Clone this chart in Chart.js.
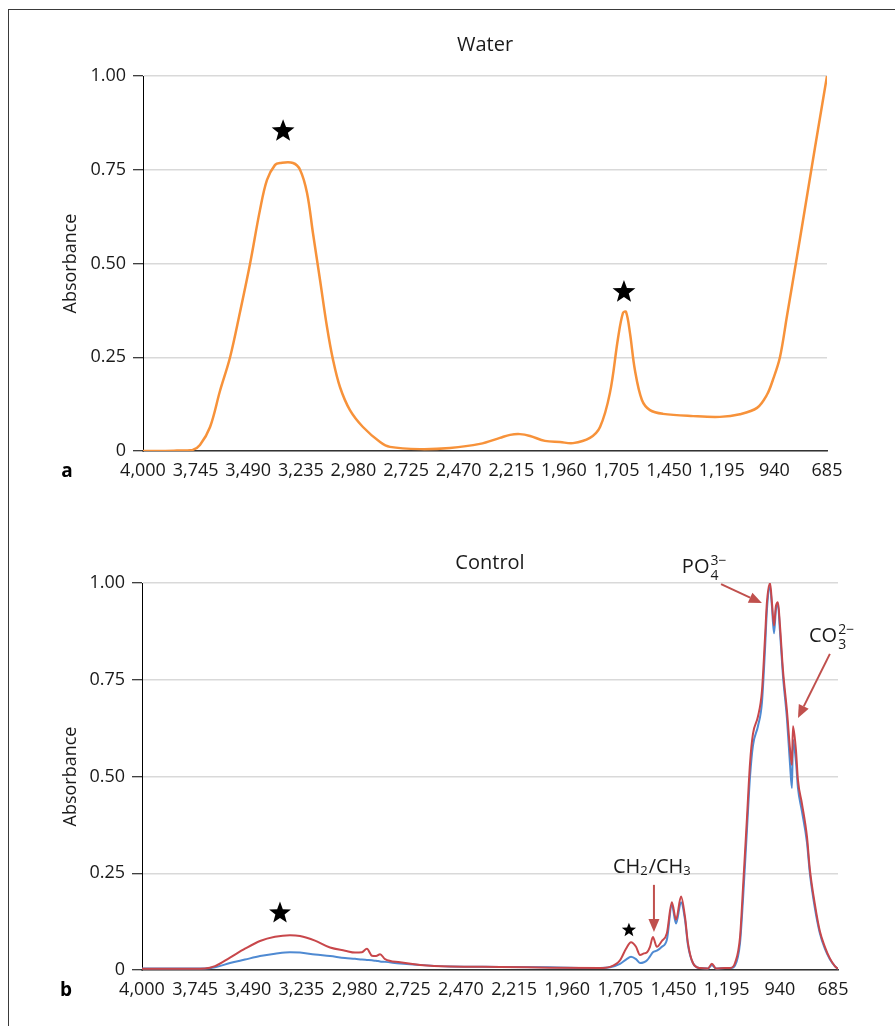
<!DOCTYPE html>
<html>
<head>
<meta charset="utf-8">
<title>Water / Control absorbance</title>
<script src="https://cdn.jsdelivr.net/npm/chart.js@4.4.1/dist/chart.umd.min.js"></script>
<style>
  html, body { margin: 0; padding: 0; background: #fff; }
  body { width: 895px; height: 1026px; position: relative; overflow: hidden; }
  .frame { position: absolute; left: 8px; top: 9px; width: 900px; height: 1030px;
           border-left: 1.5px solid #3a3a3a; border-top: 1.5px solid #3a3a3a; }
  canvas { position: absolute; left: 0; }
  #water { top: 0; }
  #control { top: 500px; }
</style>
</head>
<body>
<div class="frame"></div>
<canvas id="water" width="895" height="500"></canvas>
<canvas id="control" width="895" height="526"></canvas>
<script>
// x ticks (wavenumber, cm-1) shared by both panels
const xTicks = [4000, 3745, 3490, 3235, 2980, 2725, 2470, 2215, 1960, 1705, 1450, 1195, 940, 685];
const yTicks = [0, 0.25, 0.5, 0.75, 1];

// panel a: water
const waterWn = [4000, 3850, 3760, 3724, 3675, 3627, 3578, 3530, 3481, 3433, 3399, 3360, 3336, 3273, 3239,
  3205, 3176, 3142, 3108, 3079, 3045, 2997, 2934, 2851, 2803, 2658, 2512, 2367, 2270, 2221, 2173, 2124,
  2052, 1979, 1916, 1834, 1785, 1737, 1698, 1674, 1659, 1640, 1616, 1582, 1543, 1480, 1334, 1204, 1107,
  1024, 976, 947, 913, 879, 830, 801, 758, 729, 685];
const waterAbs = [0, 0.001, 0.003, 0.016, 0.064, 0.16, 0.25, 0.37, 0.5, 0.643, 0.723, 0.763, 0.768, 0.768, 0.75,
  0.688, 0.58, 0.456, 0.33, 0.243, 0.17, 0.109, 0.064, 0.024, 0.011, 0.005, 0.008, 0.019, 0.035, 0.043, 0.045, 0.04,
  0.027, 0.024, 0.021, 0.035, 0.064, 0.155, 0.3, 0.368, 0.371, 0.315, 0.216, 0.136, 0.109, 0.099, 0.093, 0.091, 0.098,
  0.115, 0.15, 0.19, 0.25, 0.36, 0.52, 0.616, 0.76, 0.856, 1.0];

// panel b: control, two spectra
const controlWn = [4000, 3818, 3698, 3650, 3578, 3506, 3434, 3362, 3290, 3242, 3170, 3098, 3026, 2978, 2945,
  2921, 2897, 2877, 2858, 2834, 2762, 2666, 2523, 2283, 2043, 1803, 1755, 1707, 1678, 1654, 1630, 1611,
  1592, 1577, 1563, 1549, 1530, 1506, 1482, 1458, 1438, 1414, 1395, 1381, 1357, 1323, 1285, 1266, 1246,
  1203, 1179, 1155, 1131, 1117, 1098, 1083, 1069, 1045, 1026, 1011, 1002, 987, 978, 968, 959, 949, 940,
  925, 906, 891, 882, 877, 863, 853, 834, 810, 796, 772, 748, 724, 700, 676, 661];
const controlRed = [0.003, 0.003, 0.004, 0.01, 0.032, 0.055, 0.075, 0.086, 0.09, 0.088, 0.076, 0.058, 0.05, 0.045, 0.046,
  0.055, 0.037, 0.036, 0.041, 0.028, 0.02, 0.013, 0.009, 0.008, 0.006, 0.005, 0.008, 0.025, 0.055, 0.072, 0.06, 0.039,
  0.043, 0.046, 0.06, 0.085, 0.06, 0.075, 0.095, 0.175, 0.13, 0.19, 0.137, 0.07, 0.018, 0.005, 0.004, 0.016, 0.004,
  0.005, 0.005, 0.018, 0.085, 0.21, 0.39, 0.535, 0.61, 0.655, 0.72, 0.86, 0.95, 1.0, 0.95, 0.89, 0.94, 0.95, 0.895,
  0.775, 0.67, 0.57, 0.53, 0.63, 0.57, 0.49, 0.43, 0.345, 0.26, 0.17, 0.1, 0.06, 0.03, 0.01, 0.003];
const controlBlue = [0.004, 0.004, 0.004, 0.007, 0.018, 0.027, 0.036, 0.042, 0.046, 0.045, 0.04, 0.036, 0.031, 0.029, 0.027,
  0.026, 0.025, 0.024, 0.022, 0.021, 0.017, 0.013, 0.009, 0.008, 0.007, 0.005, 0.007, 0.016, 0.027, 0.034, 0.028, 0.018,
  0.02, 0.025, 0.035, 0.046, 0.05, 0.06, 0.078, 0.168, 0.12, 0.175, 0.13, 0.065, 0.018, 0.005, 0.004, 0.012, 0.004,
  0.005, 0.005, 0.012, 0.07, 0.18, 0.36, 0.5, 0.58, 0.63, 0.69, 0.83, 0.93, 0.99, 0.94, 0.87, 0.93, 0.945, 0.88,
  0.76, 0.65, 0.53, 0.47, 0.595, 0.54, 0.47, 0.41, 0.33, 0.25, 0.16, 0.095, 0.055, 0.028, 0.01, 0.003];

// annotations, in data coordinates
const waterStars = [[3321, 0.853, 12], [1669, 0.424, 12]];
const controlStars = [[3338, 0.147, 11.5], [1664, 0.103, 7.5]];
const controlArrows = [[1222, 0.997, 1026, 0.948], [700, 0.817, 853, 0.651], [1544, 0.22, 1544, 0.098]];
const controlLabels = [
  { wn: 1410, abs: 1.026, runs: [{ t: "PO" }, { sup: "3\u2212", sub: "4" }] },
  { wn: 800, abs: 0.848, runs: [{ t: "CO" }, { sup: "2\u2212", sub: "3" }] },
  { wn: 1741, abs: 0.251, runs: [{ t: "CH" }, { low: "2" }, { t: "/CH" }, { low: "3" }] },
];

const FONT = "'Open Sans', sans-serif";
const INK = "#1a1a1a";
const ARROW = "#c0504d";

Chart.defaults.font.family = FONT;
Chart.defaults.color = INK;

function pts(xs, ys) {
  return xs.map((x, i) => ({ x: x, y: ys[i] }));
}

function drawStar(ctx, cx, cy, r) {
  ctx.beginPath();
  for (let i = 0; i < 10; i++) {
    const rad = i % 2 === 0 ? r : r * 0.42;
    const a = -Math.PI / 2 + i * Math.PI / 5;
    const px = cx + rad * Math.cos(a);
    const py = cy + rad * Math.sin(a);
    i === 0 ? ctx.moveTo(px, py) : ctx.lineTo(px, py);
  }
  ctx.closePath();
  ctx.fillStyle = "#000";
  ctx.fill();
}

function drawArrow(ctx, x1, y1, x2, y2) {
  const ang = Math.atan2(y2 - y1, x2 - x1);
  const head = 13, half = 5.5;
  const bx = x2 - head * Math.cos(ang), by = y2 - head * Math.sin(ang);
  ctx.strokeStyle = ARROW;
  ctx.fillStyle = ARROW;
  ctx.lineWidth = 2;
  ctx.beginPath();
  ctx.moveTo(x1, y1);
  ctx.lineTo(bx, by);
  ctx.stroke();
  ctx.beginPath();
  ctx.moveTo(x2, y2);
  ctx.lineTo(bx + half * Math.sin(ang), by - half * Math.cos(ang));
  ctx.lineTo(bx - half * Math.sin(ang), by + half * Math.cos(ang));
  ctx.closePath();
  ctx.fill();
}

// text with stacked super/subscripts, x/y is the left baseline
function drawRuns(ctx, x, y, runs) {
  ctx.fillStyle = INK;
  ctx.textAlign = "left";
  ctx.textBaseline = "alphabetic";
  let cx = x;
  runs.forEach((r) => {
    if (r.t) {
      ctx.font = "20px " + FONT;
      ctx.fillText(r.t, cx, y);
      cx += ctx.measureText(r.t).width;
    } else if (r.low) {
      ctx.font = "13px " + FONT;
      ctx.fillText(r.low, cx, y + 2);
      cx += ctx.measureText(r.low).width + 1;
    } else {
      ctx.font = "14px " + FONT;
      ctx.fillText(r.sup, cx + 1, y - 8);
      ctx.fillText(r.sub, cx + 1, y + 7);
      cx += Math.max(ctx.measureText(r.sup).width, ctx.measureText(r.sub).width) + 1;
    }
  });
}

const marksPlugin = {
  id: "marks",
  afterDraw(chart, args, opts) {
    const { ctx, chartArea } = chart;
    const x = chart.scales.x, y = chart.scales.y;
    ctx.save();
    (opts.stars || []).forEach((s) => drawStar(ctx, x.getPixelForValue(s[0]), y.getPixelForValue(s[1]), s[2]));
    (opts.arrows || []).forEach((a) => drawArrow(ctx,
      x.getPixelForValue(a[0]), y.getPixelForValue(a[1]), x.getPixelForValue(a[2]), y.getPixelForValue(a[3])));
    (opts.labels || []).forEach((l) => drawRuns(ctx, x.getPixelForValue(l.wn), y.getPixelForValue(l.abs), l.runs));
    if (opts.panel) {
      ctx.font = "bold 19px " + FONT;
      ctx.fillStyle = "#000";
      ctx.textAlign = "center";
      ctx.textBaseline = "alphabetic";
      ctx.fillText(opts.panel, chartArea.left - 76, chartArea.bottom + 26);
    }
    ctx.restore();
  },
};

function makeChart(id, cfg) {
  return new Chart(document.getElementById(id), {
    type: "line",
    data: { datasets: cfg.datasets },
    options: {
      responsive: false,
      animation: false,
      layout: { padding: { left: 0, right: cfg.right, top: 0, bottom: 0 } },
      elements: { point: { radius: 0 } },
      scales: {
        x: {
          type: "linear",
          reverse: true,
          min: cfg.xMin,
          max: 4000,
          afterBuildTicks: (s) => { s.ticks = xTicks.map((v) => ({ value: v })); },
          afterFit: (s) => { s.height = cfg.xHeight; },
          grid: { display: false, drawTicks: false },
          border: { color: "#333", width: 1.5 },
          ticks: {
            autoSkip: false, maxRotation: 0, padding: 9,
            font: { size: 18 }, color: INK,
            callback: (v) => v.toLocaleString("en-US"),
          },
        },
        y: {
          min: 0,
          max: 1,
          afterBuildTicks: (s) => { s.ticks = yTicks.map((v) => ({ value: v })); },
          afterFit: (s) => { s.width = cfg.yWidth; },
          grid: { color: "#d9d9d9", lineWidth: 1.5, tickColor: "#000", tickLength: 10, tickWidth: 1 },
          border: { color: "#000", width: 1 },
          ticks: {
            padding: 7, font: { size: 18 }, color: INK,
            callback: (v) => (v === 0 ? "0" : v.toFixed(2)),
          },
          title: { display: true, text: "Absorbance", font: { size: 18 }, color: INK, padding: { top: 60, bottom: 0 } },
        },
      },
      plugins: {
        legend: { display: false },
        tooltip: { enabled: false },
        title: {
          display: true, text: cfg.title, fullSize: false, color: INK,
          font: { size: 20, weight: "normal" }, padding: cfg.titlePad,
        },
        marks: cfg.marks,
      },
    },
    plugins: [marksPlugin],
  });
}

makeChart("water", {
  title: "Water",
  titlePad: { top: 33, bottom: 19 },
  xMin: 685, xHeight: 49, yWidth: 143, right: 68,
  datasets: [
    { label: "Water", data: pts(waterWn, waterAbs), borderColor: "#f7923a", borderWidth: 2.5, tension: 0.35 },
  ],
  marks: { stars: waterStars, panel: "a" },
});

makeChart("control", {
  title: "Control",
  titlePad: { top: 51, bottom: 8 },
  xMin: 661, xHeight: 56, yWidth: 142, right: 57,
  datasets: [
    { label: "Control 1", data: pts(controlWn, controlRed), borderColor: "#c8474b", borderWidth: 2,
      cubicInterpolationMode: "monotone" },
    { label: "Control 2", data: pts(controlWn, controlBlue), borderColor: "#4f8ad2", borderWidth: 2,
      cubicInterpolationMode: "monotone" },
  ],
  marks: { stars: controlStars, arrows: controlArrows, labels: controlLabels, panel: "b" },
});
</script>
</body>
</html>
